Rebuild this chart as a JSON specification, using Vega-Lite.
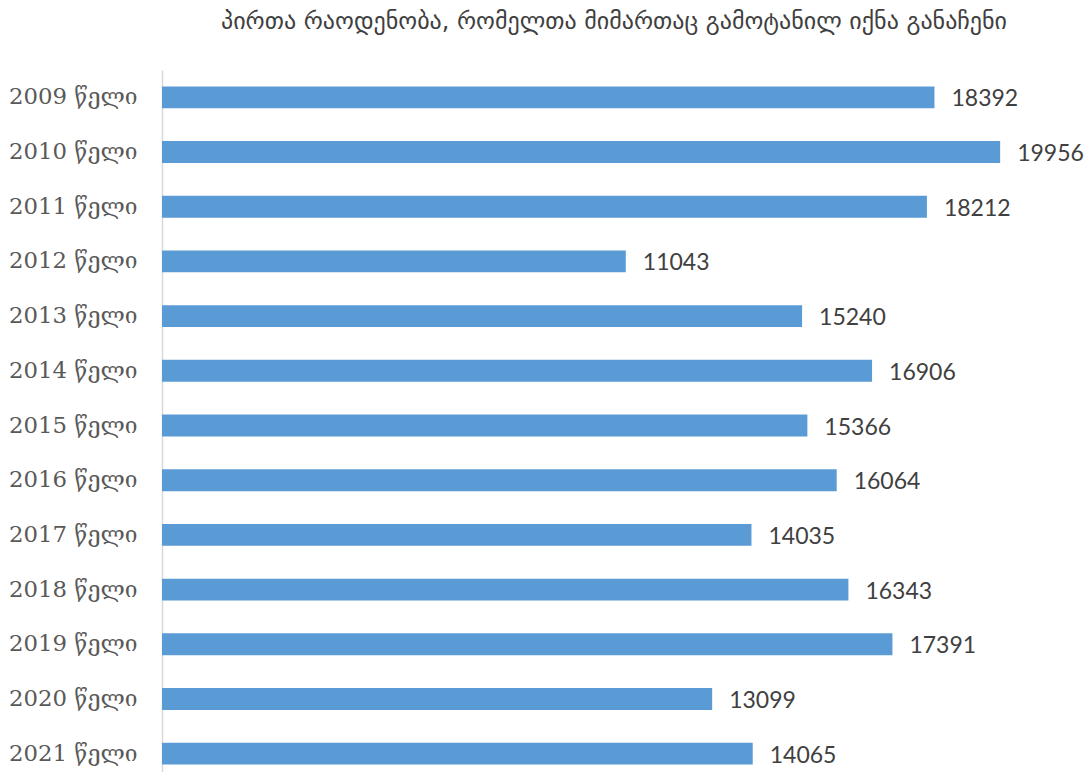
{
  "$schema": "https://vega.github.io/schema/vega-lite/v6.json",
  "autosize": {"type": "none"},
  "padding": {"left": 162, "top": 70, "right": 84, "bottom": 0},
  "width": 840,
  "height": 711,
  "background": "white",
  "title": {
    "text": "პირთა რაოდენობა, რომელთა მიმართაც გამოტანილ იქნა განაჩენი",
    "font": "DejaVu Sans",
    "fontSize": 24,
    "fontWeight": "normal",
    "color": "#404040",
    "anchor": "middle",
    "offset": 36,
    "dx": 32
  },
  "config": {"view": {"stroke": null}},
  "data": {
    "values": [
      {"year": "2009 წელი", "value": 18392},
      {"year": "2010 წელი", "value": 19956},
      {"year": "2011 წელი", "value": 18212},
      {"year": "2012 წელი", "value": 11043},
      {"year": "2013 წელი", "value": 15240},
      {"year": "2014 წელი", "value": 16906},
      {"year": "2015 წელი", "value": 15366},
      {"year": "2016 წელი", "value": 16064},
      {"year": "2017 წელი", "value": 14035},
      {"year": "2018 წელი", "value": 16343},
      {"year": "2019 წელი", "value": 17391},
      {"year": "2020 წელი", "value": 13099},
      {"year": "2021 წელი", "value": 14065}
    ]
  },
  "encoding": {
    "y": {
      "field": "year",
      "type": "nominal",
      "sort": null,
      "scale": {"paddingInner": 0.6, "paddingOuter": 0.3},
      "axis": {
        "title": null,
        "ticks": false,
        "domainColor": "#d9d9d9",
        "domainWidth": 1.5,
        "labelFont": "DejaVu Serif",
        "labelFontSize": 22.8,
        "labelColor": "#595959",
        "labelPadding": 25
      }
    },
    "x": {
      "field": "value",
      "type": "quantitative",
      "scale": {"domain": [0, 20000]},
      "axis": null
    }
  },
  "layer": [
    {"mark": {"type": "bar", "color": "#5B9BD5"}},
    {
      "mark": {"type": "text", "align": "left", "dx": 17, "dy": 2, "font": "Lato", "fontSize": 23, "color": "#404040"},
      "encoding": {"text": {"field": "value", "type": "quantitative", "format": "d"}}
    }
  ]
}
